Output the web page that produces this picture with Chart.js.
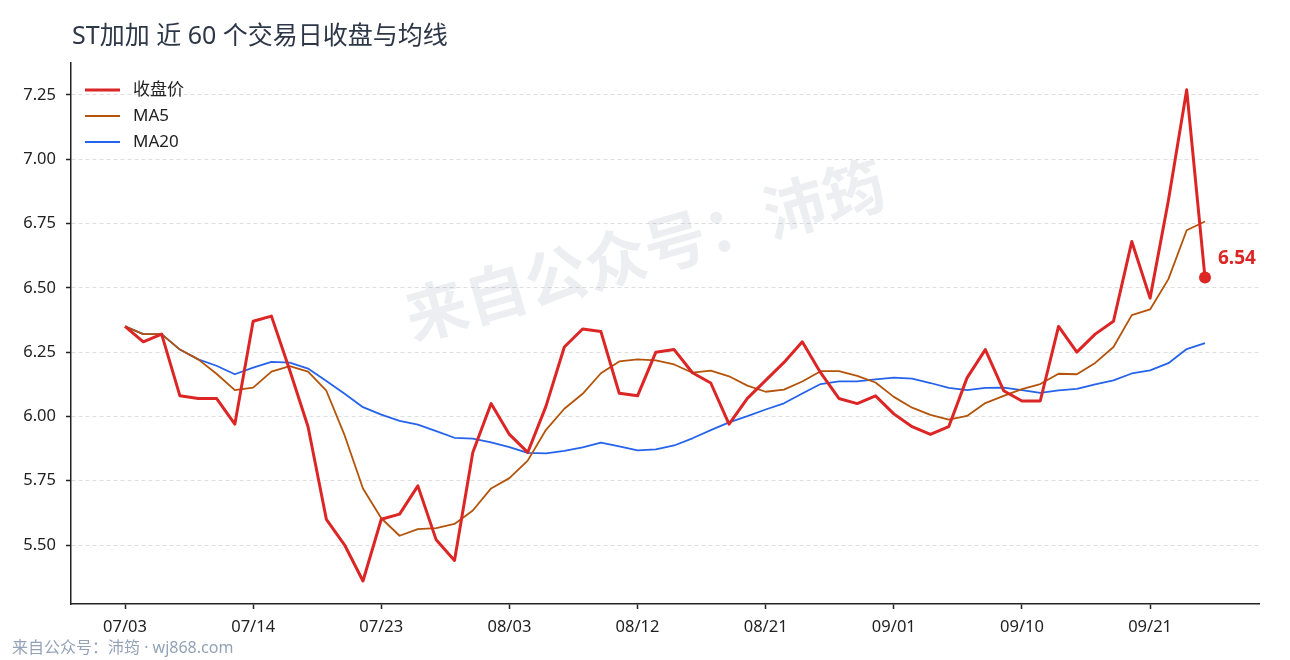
<!DOCTYPE html>
<html>
<head>
<meta charset="utf-8">
<script src="https://cdn.jsdelivr.net/npm/chart.js@4.4.1/dist/chart.umd.min.js"></script>
<style>
  html, body { margin: 0; padding: 0; background: #fff; }
  #wrap { width: 1290px; height: 660px; }
</style>
</head>
<body>
<div id="wrap"><canvas id="chart" width="1290" height="660"></canvas></div>
<script>
// 60 个交易日
const dates = [
  '07/03','07/04','07/07','07/08','07/09','07/10','07/11','07/14','07/15','07/16',
  '07/17','07/18','07/21','07/22','07/23','07/24','07/25','07/28','07/29','07/30',
  '07/31','08/03','08/04','08/05','08/06','08/07','08/08','08/11','08/12','08/13',
  '08/14','08/15','08/18','08/19','08/20','08/21','08/22','08/25','08/26','08/27',
  '08/28','08/29','09/01','09/02','09/03','09/04','09/05','09/08','09/09','09/10',
  '09/11','09/12','09/15','09/16','09/17','09/18','09/21','09/22','09/23','09/24'
];

const close = [
  6.35, 6.29, 6.32, 6.08, 6.07, 6.07, 5.97, 6.37, 6.39, 6.18,
  5.96, 5.60, 5.50, 5.36, 5.60, 5.62, 5.73, 5.52, 5.44, 5.86,
  6.05, 5.93, 5.86, 6.04, 6.27, 6.34, 6.33, 6.09, 6.08, 6.25,
  6.26, 6.17, 6.13, 5.97, 6.07, 6.14, 6.21, 6.29, 6.17, 6.07,
  6.05, 6.08, 6.01, 5.96, 5.93, 5.96, 6.15, 6.26, 6.10, 6.06,
  6.06, 6.35, 6.25, 6.32, 6.37, 6.68, 6.46, 6.84, 7.27, 6.54
];

const ma5 = [
  6.35, 6.32, 6.32, 6.26, 6.222, 6.166, 6.102, 6.112, 6.174, 6.196,
  6.174, 6.10, 5.926, 5.72, 5.604, 5.536, 5.562, 5.566, 5.582, 5.634,
  5.72, 5.76, 5.828, 5.948, 6.03, 6.088, 6.168, 6.214, 6.222, 6.218,
  6.202, 6.17, 6.178, 6.156, 6.12, 6.096, 6.104, 6.136, 6.176, 6.176,
  6.158, 6.132, 6.076, 6.034, 6.006, 5.988, 6.002, 6.052, 6.08, 6.106,
  6.126, 6.166, 6.164, 6.208, 6.27, 6.394, 6.416, 6.534, 6.724, 6.758
];

const ma20 = [
  6.35, 6.32, 6.32, 6.26, 6.222, 6.197, 6.164, 6.19, 6.212, 6.209,
  6.186, 6.138, 6.088, 6.036, 6.007, 5.983, 5.968, 5.943, 5.917, 5.914,
  5.899, 5.881, 5.858, 5.856, 5.866, 5.88, 5.898, 5.884, 5.868, 5.872,
  5.887, 5.915, 5.947, 5.977, 6.001, 6.027, 6.051, 6.089, 6.126, 6.136,
  6.136, 6.144, 6.151, 6.147, 6.13, 6.111, 6.102, 6.111, 6.112, 6.102,
  6.092, 6.101, 6.107, 6.125, 6.14, 6.167, 6.179, 6.207, 6.262, 6.285
];

const xTickLabels = ['07/03','07/14','07/23','08/03','08/12','08/21','09/01','09/10','09/21'];
const yTicks = [5.50, 5.75, 6.00, 6.25, 6.50, 6.75, 7.00, 7.25];

const FONT = '"Noto Sans", "Noto Sans CJK SC", sans-serif';
Chart.defaults.font.family = FONT;
Chart.defaults.color = '#222';

const toPoints = arr => arr.map((v, i) => ({ x: i, y: v }));
const last = close.length - 1;

// 水印、标题、图例、页脚
const decor = {
  id: 'decor',
  beforeDraw(chart) {
    const ctx = chart.ctx;
    ctx.save();
    ctx.fillStyle = '#fff';
    ctx.fillRect(0, 0, chart.width, chart.height);
    ctx.restore();
  },
  beforeDatasetsDraw(chart) {
    const ctx = chart.ctx;
    ctx.save();
    ctx.translate(645, 250);
    ctx.rotate(-16 * Math.PI / 180);
    ctx.font = 'bold 62px "Noto Sans CJK SC", sans-serif';
    ctx.fillStyle = 'rgba(100,116,139,0.12)';
    ctx.textAlign = 'center';
    ctx.textBaseline = 'middle';
    ctx.fillText('来自公众号：沛筠', 0, 0);
    ctx.restore();
  },
  afterDraw(chart) {
    const ctx = chart.ctx;
    ctx.save();
    // title
    ctx.font = '25px ' + FONT;
    ctx.fillStyle = '#2d3748';
    ctx.textBaseline = 'middle';
    ctx.textAlign = 'left';
    ctx.fillText('ST加加 近 60 个交易日收盘与均线', 72, 37);

    // footer
    ctx.font = '16px ' + FONT;
    ctx.fillStyle = '#94a3b8';
    ctx.fillText('来自公众号：沛筠 · wj868.com', 12, 648);

    // legend
    ctx.font = '17px ' + FONT;
    chart.data.datasets.forEach((ds, i) => {
      const y = 90 + i * 26;
      ctx.strokeStyle = ds.borderColor;
      ctx.lineWidth = ds.borderWidth;
      ctx.beginPath();
      ctx.moveTo(85, y);
      ctx.lineTo(120, y);
      ctx.stroke();
      ctx.fillStyle = '#222';
      ctx.fillText(ds.label, 133, y);
    });

    // last value
    const xs = chart.scales.x, ys = chart.scales.y;
    ctx.font = 'bold 19px ' + FONT;
    ctx.fillStyle = '#dc2626';
    ctx.fillText(close[last].toFixed(2), xs.getPixelForValue(last) + 13, ys.getPixelForValue(close[last]) - 19);
    ctx.restore();
  }
};

new Chart(document.getElementById('chart'), {
  type: 'line',
  data: {
    datasets: [
      {
        label: '收盘价',
        data: toPoints(close),
        borderColor: '#dc2626',
        backgroundColor: '#dc2626',
        borderWidth: 3,
        borderJoinStyle: 'round',
        pointRadius: close.map((_, i) => i === last ? 6 : 0),
        pointBorderWidth: 0,
        tension: 0
      },
      {
        label: 'MA5',
        data: toPoints(ma5),
        borderColor: '#b45309',
        borderWidth: 1.8,
        borderJoinStyle: 'round',
        pointRadius: 0,
        tension: 0
      },
      {
        label: 'MA20',
        data: toPoints(ma20),
        borderColor: '#2563eb',
        borderWidth: 1.8,
        borderJoinStyle: 'round',
        pointRadius: 0,
        tension: 0
      }
    ]
  },
  options: {
    responsive: false,
    animation: false,
    layout: { padding: { left: 0, top: 63, right: 31, bottom: 0 } },
    plugins: {
      legend: { display: false },
      title: { display: false },
      tooltip: { enabled: false }
    },
    scales: {
      x: {
        type: 'linear',
        min: -2.95,
        max: 61.95,
        afterBuildTicks: s => { s.ticks = xTickLabels.map(l => ({ value: dates.indexOf(l) })); },
        afterFit: s => { s.height = 56; },
        ticks: {
          callback: v => dates[v],
          font: { size: 16.5 },
          color: '#222',
          padding: 8,
          maxRotation: 0,
          autoSkip: false
        },
        grid: {
          drawOnChartArea: false,
          drawTicks: true,
          tickLength: 5,
          tickColor: '#222',
          tickWidth: 1.5
        },
        border: { color: '#222', width: 1.5 }
      },
      y: {
        min: 5.2706,
        max: 7.3744,
        afterBuildTicks: s => { s.ticks = yTicks.map(v => ({ value: v })); },
        afterFit: s => { s.width = 71; },
        ticks: {
          callback: v => v.toFixed(2),
          font: { size: 16.5 },
          color: '#222',
          padding: 10
        },
        grid: {
          color: '#dedede',
          lineWidth: 1,
          tickLength: 5,
          tickColor: '#222',
          tickWidth: 1.5,
          tickBorderDash: []
        },
        border: { color: '#222', width: 1.5, dash: [4, 3] }
      }
    }
  },
  plugins: [decor]
});
</script>
</body>
</html>
